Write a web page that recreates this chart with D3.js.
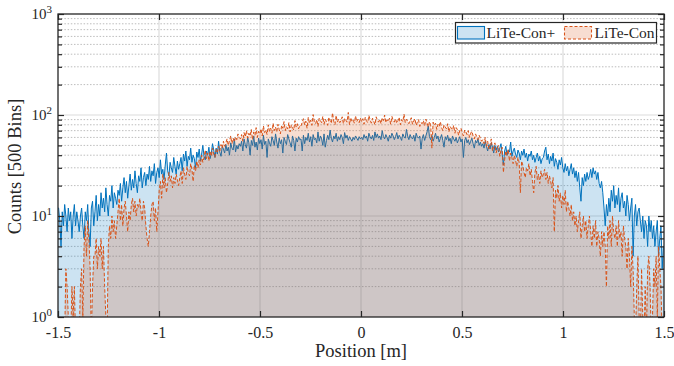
<!DOCTYPE html>
<html>
<head>
<meta charset="utf-8">
<script src="https://cdn.jsdelivr.net/npm/d3@7"></script>
<style>
  body { margin: 0; background: #fff; }
  text { font-family: "Liberation Serif", "DejaVu Serif", serif; fill: #262626; }
</style>
</head>
<body>
<svg id="chart" width="674" height="366"></svg>
<script>
// counts per bin, 500 bins from -1.5 m to 1.5 m
const liteConPlus = [
  12, 9, 5, 11, 8, 13, 10, 7, 12, 9, 11, 6, 10, 13, 8, 11, 9, 7, 10, 12, 8, 6, 11, 9, 13, 7, 5, 12, 14, 8, 11, 16, 9, 13, 10, 17, 12, 15, 11, 19, 13, 10, 16, 14, 20, 12, 17, 15, 13, 18,
  16, 21, 14, 19, 24, 17, 22, 15, 20, 26, 18, 23, 19, 28, 21, 17, 25, 22, 30, 19, 24, 27, 20, 26, 23, 31, 22, 28, 25, 33, 21, 27, 30, 24, 36, 26, 29, 23, 32, 42, 28, 25, 34, 30, 27, 38, 31, 26, 35, 29,
  33, 38, 28, 41, 35, 44, 31, 39, 36, 47, 34, 40, 37, 30, 43, 38, 46, 35, 41, 50, 39, 36, 44, 40, 48, 37, 42, 52, 45, 38, 47, 41, 55, 43, 39, 49, 46, 42, 51, 44, 48, 40, 53, 47, 45, 58, 43, 50, 46, 52,
  49, 55, 44, 58, 51, 47, 60, 53, 40, 56, 50, 62, 48, 54, 45, 59, 52, 57, 46, 63, 51, 55, 38, 58, 53, 49, 61, 56, 50, 65, 54, 47, 59, 52, 57, 42, 60, 55, 51, 64, 58, 53, 48, 62, 56, 44, 59, 54, 61, 57,
  58, 44, 63, 52, 60, 56, 66, 54, 61, 49, 64, 57, 59, 53, 68, 55, 62, 58, 50, 65, 48, 56, 63, 57, 71, 59, 54, 62, 58, 66, 55, 61, 57, 64, 60, 52, 67, 59, 63, 56, 61, 58, 55, 60, 57, 62, 59, 56, 61, 58,
  60, 57, 64, 59, 62, 55, 66, 61, 58, 63, 56, 68, 60, 65, 59, 62, 57, 70, 61, 58, 64, 60, 55, 63, 59, 66, 62, 57, 61, 67, 58, 63, 60, 56, 65, 61, 59, 72, 62, 57, 64, 60, 58, 63, 55, 66, 61, 59, 62, 46,
  59, 64, 56, 62, 68, 78, 61, 57, 63, 55, 60, 66, 58, 62, 54, 59, 64, 56, 48, 61, 57, 63, 55, 59, 52, 62, 58, 55, 60, 53, 57, 61, 54, 58, 38, 56, 60, 53, 57, 51, 55, 59, 52, 47, 56, 53, 58, 50, 54, 49,
  52, 47, 55, 49, 44, 51, 46, 53, 48, 42, 50, 45, 49, 43, 47, 52, 41, 32, 44, 49, 40, 45, 43, 54, 39, 44, 47, 41, 38, 45, 42, 36, 44, 40, 46, 38, 42, 35, 41, 39, 44, 36, 40, 34, 38, 42, 35, 39, 33, 37,
  38, 44, 48, 36, 41, 33, 39, 35, 42, 31, 37, 34, 29, 36, 32, 38, 30, 27, 33, 28, 31, 25, 29, 33, 26, 30, 24, 28, 22, 27, 19, 14, 24, 20, 26, 22, 27, 23, 25, 29, 24, 30, 26, 28, 23, 27, 21, 19, 22, 17,
  12, 8, 13, 10, 15, 11, 18, 14, 20, 12, 16, 13, 19, 11, 15, 17, 12, 14, 10, 16, 13, 9, 12, 15, 4, 10, 13, 8, 11, 12, 9, 7, 10, 6, 9, 8, 5, 10, 7, 9, 6, 8, 5, 7, 9, 4, 6, 8, 3, 5
];
const liteCon = [
  0, 1, 0, 0, 1, 0, 3, 2, 1, 0, 0, 2, 1, 2, 0, 1, 0, 0, 2, 3, 1, 5, 8, 4, 9, 6, 3, 0, 2, 4, 4, 6, 3, 5, 4, 6, 3, 5, 2, 1, 0, 5, 8, 6, 10, 7, 9, 6, 8, 11,
  15, 9, 13, 8, 12, 14, 10, 7, 11, 9, 13, 15, 11, 14, 10, 13, 12, 15, 11, 9, 14, 12, 8, 6, 5, 7, 10, 13, 14, 9, 12, 7, 11, 18, 22, 15, 26, 19, 24, 17, 21, 27, 22, 25, 19, 24, 21, 26, 23, 20,
  24, 28, 21, 30, 26, 23, 31, 27, 25, 33, 29, 22, 32, 28, 35, 30, 36, 32, 40, 34, 38, 45, 37, 42, 35, 44, 39, 47, 41, 38, 46, 43, 49, 44, 51, 47, 55, 49, 53, 58, 50, 56, 62, 52, 59, 54, 61, 57, 65, 60,
  58, 64, 55, 67, 61, 70, 59, 66, 62, 72, 57, 68, 63, 75, 60, 69, 65, 73, 62, 78, 67, 71, 64, 80, 69, 74, 66, 83, 70, 76, 68, 81, 72, 65, 79, 74, 86, 70, 77, 73, 84, 68, 80, 75, 71, 88, 76, 82, 73, 79,
  78, 85, 92, 80, 87, 74, 95, 83, 89, 79, 101, 86, 82, 90, 77, 93, 88, 84, 97, 81, 91, 86, 79, 95, 88, 83, 105, 87, 80, 99, 85, 91, 84, 88, 96, 82, 93, 89, 85, 106, 80, 94, 87, 90, 83, 98, 86, 91, 84, 93,
  86, 92, 81, 95, 88, 84, 99, 90, 83, 93, 87, 80, 96, 89, 85, 91, 82, 94, 88, 100, 84, 90, 86, 93, 81, 97, 89, 85, 92, 83, 88, 95, 80, 90, 86, 102, 84, 91, 87, 82, 89, 94, 81, 87, 92, 79, 85, 90, 77, 84,
  82, 88, 78, 91, 84, 76, 86, 80, 47, 85, 79, 83, 72, 81, 77, 86, 75, 70, 80, 76, 73, 82, 68, 77, 74, 71, 79, 66, 75, 72, 63, 70, 74, 67, 62, 71, 68, 64, 70, 60, 66, 69, 62, 58, 65, 61, 57, 63, 59, 55,
  57, 52, 60, 49, 55, 46, 51, 58, 44, 49, 53, 42, 47, 50, 39, 45, 48, 27, 36, 44, 40, 46, 35, 42, 38, 33, 40, 36, 31, 38, 34, 17, 35, 32, 27, 24, 30, 28, 33, 25, 29, 22, 17, 27, 31, 23, 26, 21, 28, 24,
  26, 29, 23, 27, 21, 25, 22, 19, 24, 7, 18, 15, 20, 14, 17, 12, 16, 13, 18, 11, 14, 12, 10, 13, 9, 11, 8, 10, 7, 9, 11, 6, 8, 10, 7, 9, 6, 8, 10, 7, 5, 8, 6, 9, 5, 7, 6, 4, 7, 5,
  7, 5, 2, 8, 6, 9, 5, 10, 7, 6, 8, 5, 9, 6, 7, 4, 8, 6, 5, 3, 6, 4, 2, 5, 3, 1, 0, 2, 4, 1, 0, 3, 1, 0, 2, 0, 3, 4, 2, 0, 1, 3, 2, 4, 1, 5, 3, 2, 0, 1
];
const seriesNames = ["LiTe-Con+", "LiTe-Con"];
const xTicks = [-1.5, -1, -0.5, 0, 0.5, 1, 1.5];
const xTickLabels = ["-1.5", "-1", "-0.5", "0", "0.5", "1", "1.5"];
const yTicks = [1, 10, 100, 1000];
const yTickExps = ["0", "1", "2", "3"];
const xMin = -1.5, xMax = 1.5, nBins = 500;

const blue = "#0072BD", orange = "#D95319", axisCol = "#262626";
const serif = '"Liberation Serif", "DejaVu Serif", serif';

const svg = d3.select("#chart");
const margin = {top: 14, right: 10, bottom: 49, left: 58},
    width = 674 - margin.left - margin.right,
    height = 366 - margin.top - margin.bottom,
    g = svg.append("g").attr("transform", "translate(" + margin.left + "," + margin.top + ")");

const x = d3.scaleLinear().domain([xMin, xMax]).range([0, width]);
const y = d3.scaleLog().domain([1, 1000]).range([height, 0]);

const minorY = [];
[1, 10, 100].forEach(function(d) { for (let m = 2; m <= 9; m++) minorY.push(d * m); });

g.append("clipPath").attr("id", "clip")
  .append("rect").attr("width", width).attr("height", height);

// grid
g.append("g").selectAll("line").data(minorY).enter().append("line")
    .attr("x1", 0).attr("x2", width)
    .attr("y1", d => y(d)).attr("y2", d => y(d))
    .attr("stroke", "#bdbdbd").attr("stroke-width", 1).attr("stroke-dasharray", "1.5,1.7");
g.append("g").selectAll("line").data([10, 100]).enter().append("line")
    .attr("x1", 0).attr("x2", width)
    .attr("y1", d => y(d)).attr("y2", d => y(d))
    .attr("stroke", "#dcdcdc").attr("stroke-width", 1.2);
g.append("g").selectAll("line").data(xTicks.slice(1, -1)).enter().append("line")
    .attr("y1", 0).attr("y2", height)
    .attr("x1", d => x(d)).attr("x2", d => x(d))
    .attr("stroke", "#dcdcdc").attr("stroke-width", 1.2);

// histogram outlines through bin centres
const bw = (xMax - xMin) / nBins;
function pts(vals) {
  const p = vals.map((v, i) => ({x: xMin + (i + 0.5) * bw, v: v}));
  p.unshift({x: xMin, v: vals[0]});
  p.push({x: xMax, v: vals[vals.length - 1]});
  return p;
}
const yv = v => v >= 1 ? y(v) : height + 20;

const area = d3.area().x(d => x(d.x)).y0(height).y1(d => yv(d.v));
const line = d3.line().x(d => x(d.x)).y(d => yv(d.v));

const plot = g.append("g").attr("clip-path", "url(#clip)");
[[liteConPlus, blue, null], [liteCon, orange, "3.5,2"]].forEach(function(s) {
  const p = pts(s[0]);
  plot.append("path").datum(p).attr("d", area)
      .attr("fill", s[1]).attr("fill-opacity", 0.2);
  plot.append("path").datum(p).attr("d", line)
      .attr("fill", "none").attr("stroke", s[1]).attr("stroke-width", 1)
      .attr("stroke-linejoin", "round")
      .attr("stroke-dasharray", s[2]);
});

// axes
function styleAxis(sel) {
  sel.select(".domain").remove();
  sel.selectAll(".tick line").attr("stroke", axisCol).attr("stroke-width", 1.2);
}
g.append("g").attr("transform", "translate(0," + height + ")")
    .call(d3.axisBottom(x).tickValues(xTicks).tickSize(-6).tickPadding(10)
      .tickFormat((d, i) => xTickLabels[i]))
    .call(styleAxis)
    .selectAll("text").attr("font-size", 16).attr("fill", axisCol)
      .style("font-family", serif);
g.append("g")
    .call(d3.axisTop(x).tickValues(xTicks).tickSize(-6).tickFormat(""))
    .call(styleAxis);

const yl = g.append("g")
    .call(d3.axisLeft(y).tickValues(yTicks).tickSize(-6).tickFormat(""))
    .call(styleAxis);
yl.selectAll(".tick").append("text")
    .attr("x", -6).attr("dy", "0.32em").attr("text-anchor", "end")
    .attr("font-size", 15).attr("fill", axisCol).style("font-family", serif)
    .each(function(d, i) {
      const t = d3.select(this);
      t.append("tspan").text("10");
      t.append("tspan").attr("dy", "-0.55em").attr("font-size", 11).text(yTickExps[i]);
    });
g.append("g")
    .call(d3.axisLeft(y).tickValues(minorY).tickSize(-4).tickFormat(""))
    .call(styleAxis);
g.append("g").attr("transform", "translate(" + width + ",0)")
    .call(d3.axisRight(y).tickValues(yTicks).tickSize(-6).tickFormat(""))
    .call(styleAxis);
g.append("g").attr("transform", "translate(" + width + ",0)")
    .call(d3.axisRight(y).tickValues(minorY).tickSize(-4).tickFormat(""))
    .call(styleAxis);

g.append("rect").attr("width", width).attr("height", height)
    .attr("fill", "none").attr("stroke", axisCol).attr("stroke-width", 1.3);

// labels
g.append("text").attr("x", width / 2).attr("y", height + 40)
    .attr("text-anchor", "middle").attr("font-size", 18.5).style("font-family", serif)
    .text("Position [m]");
svg.append("text").attr("transform", "translate(21," + (margin.top + height / 2 + 1) + ") rotate(-90)")
    .attr("text-anchor", "middle").attr("font-size", 18.5).style("font-family", serif)
    .text("Counts [500 Bins]");

// legend
const lg = svg.append("g").attr("transform", "translate(455.5,22.5)");
lg.append("rect").attr("width", 201).attr("height", 20.5)
    .attr("fill", "#fff").attr("stroke", axisCol).attr("stroke-width", 1.2);
const legendItems = [
  {name: seriesNames[0], color: blue, dash: null, px: 2, tx: 31},
  {name: seriesNames[1], color: orange, dash: "3,2", px: 109, tx: 139}
];
legendItems.forEach(function(d) {
  lg.append("rect").attr("x", d.px).attr("y", 4).attr("width", 27).attr("height", 12.5)
      .attr("fill", d.color).attr("fill-opacity", 0.2)
      .attr("stroke", d.color).attr("stroke-width", 1.1).attr("stroke-dasharray", d.dash);
  lg.append("text").attr("x", d.tx).attr("y", 15).attr("font-size", 15.5)
      .style("font-family", serif).text(d.name);
});
</script>
</body>
</html>
